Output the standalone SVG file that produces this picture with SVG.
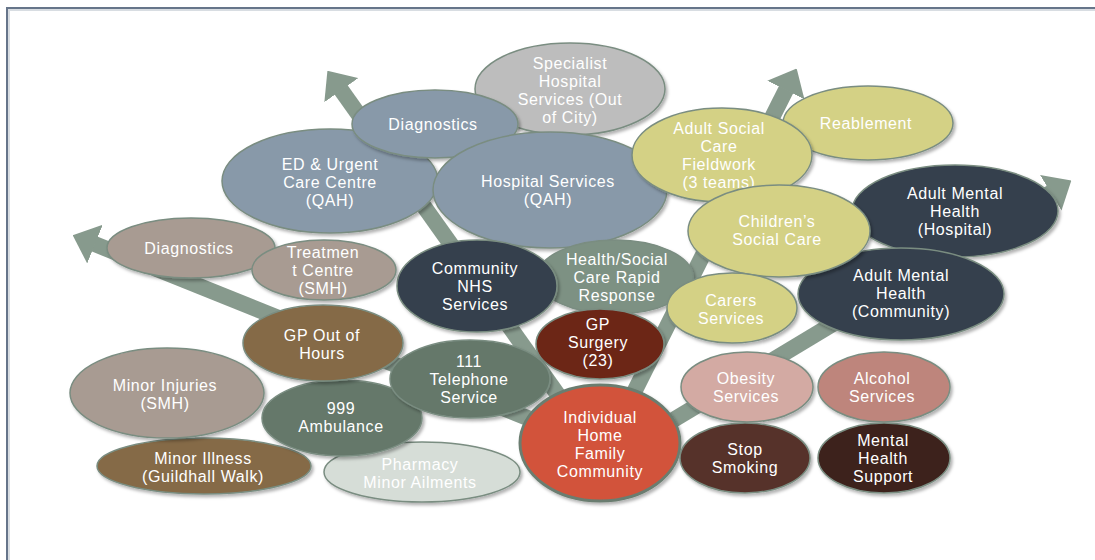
<svg xmlns="http://www.w3.org/2000/svg" width="1095" height="560" viewBox="0 0 1095 560">
<defs>
<marker id="ah" markerUnits="strokeWidth" viewBox="0 0 10 10" markerWidth="1.5" markerHeight="2.6" refX="0.3" refY="5" orient="auto" preserveAspectRatio="none">
<path d="M0,0 L10,5 L0,10 Z" fill="#879a8d"/>
</marker>
<filter id="sh" x="-10%" y="-10%" width="125%" height="130%">
<feDropShadow dx="2" dy="2.5" stdDeviation="1.5" flood-color="#000" flood-opacity="0.3"/>
</filter>
</defs>
<style>
text{font-family:"Liberation Sans",Arial,sans-serif;font-size:16px;fill:#ffffff;text-anchor:middle;letter-spacing:0.6px}
.n ellipse{stroke:#7a8d81;stroke-width:1.5;filter:url(#sh)}
.arrow{stroke:#879a8d;stroke-width:16;fill:none;marker-end:url(#ah)}
.bg{fill:#8899a9}.sp{fill:#bdbdbd}.ye{fill:#d4d185}.dk{fill:#36404d}.gg{fill:#7d9183}.gm{fill:#65786b}
.tp{fill:#a89b92}.br{fill:#856a46}.ph{fill:#d6ddd7}.rd{fill:#d2533a}.gp{fill:#6c2518}
.ob{fill:#d3aaa3}.al{fill:#be857b}.ss{fill:#57332c}.mh{fill:#3e211d}
</style>
<rect width="1095" height="560" fill="#ffffff"/>
<path d="M7,562 V8 H1097" fill="none" stroke="#66758a" stroke-width="2"/>
<path d="M9,562 V10 H1097" fill="none" stroke="#d8dde2" stroke-width="2"/>
<g id="connectors">
<line class="arrow" x1="590" y1="440" x2="340.9" y2="89.6"/>
<line class="arrow" x1="570" y1="435" x2="94.3" y2="243.9"/>
<line class="arrow" x1="610" y1="440" x2="786.2" y2="89.4"/>
<line class="arrow" x1="640" y1="440" x2="1051.4" y2="192.4"/>
</g>
<g id="specialist" class="n"><ellipse class="sp" cx="570" cy="89" rx="95" ry="46"/><text x="570" y="68.5">Specialist</text><text x="570" y="86.5">Hospital</text><text x="570" y="104.5">Services (Out</text><text x="570" y="122.5">of City)</text></g>
<g id="ed" class="n"><ellipse class="bg" cx="330" cy="181" rx="108" ry="52"/><text x="330" y="169.5">ED &amp; Urgent</text><text x="330" y="187.5">Care Centre</text><text x="330" y="205.5">(QAH)</text></g>
<g id="diagnostics-top" class="n"><ellipse class="bg" cx="435" cy="124" rx="83" ry="34"/><text x="433" y="129.5">Diagnostics</text></g>
<g id="hospital" class="n"><ellipse class="bg" cx="550" cy="190" rx="117" ry="58"/><text x="548" y="186.5">Hospital Services</text><text x="548" y="204.5">(QAH)</text></g>
<g id="reablement" class="n"><ellipse class="ye" cx="868" cy="123" rx="85" ry="37"/><text x="866" y="128.5">Reablement</text></g>
<g id="adult-social" class="n"><ellipse class="ye" cx="722" cy="155" rx="90" ry="47"/><text x="719" y="133.5">Adult Social</text><text x="719" y="151.5">Care</text><text x="719" y="169.5">Fieldwork</text><text x="719" y="187.5">(3 teams)</text></g>
<g id="amh-hospital" class="n"><ellipse class="dk" cx="955" cy="211" rx="103" ry="46"/><text x="955" y="198.5">Adult Mental</text><text x="955" y="216.5">Health</text><text x="955" y="234.5">(Hospital)</text></g>
<g id="amh-community" class="n"><ellipse class="dk" cx="901" cy="294" rx="103" ry="46"/><text x="901" y="280.5">Adult Mental</text><text x="901" y="298.5">Health</text><text x="901" y="316.5">(Community)</text></g>
<g id="childrens" class="n"><ellipse class="ye" cx="779" cy="231" rx="91" ry="46"/><text x="777" y="226.5">Children’s</text><text x="777" y="244.5">Social Care</text></g>
<g id="rapid-response" class="n"><ellipse class="gg" cx="615" cy="277" rx="78" ry="37"/><text x="617" y="264.5">Health/Social</text><text x="617" y="282.5">Care Rapid</text><text x="617" y="300.5">Response</text></g>
<g id="community-nhs" class="n"><ellipse class="dk" cx="477" cy="286" rx="80" ry="46"/><text x="475" y="273.5">Community</text><text x="475" y="291.5">NHS</text><text x="475" y="309.5">Services</text></g>
<g id="gp-surgery" class="n"><ellipse class="gp" cx="600" cy="344" rx="64" ry="35"/><text x="598" y="329.5">GP</text><text x="598" y="347.5">Surgery</text><text x="598" y="365.5">(23)</text></g>
<g id="carers" class="n"><ellipse class="ye" cx="732" cy="308" rx="65" ry="35"/><text x="731" y="305.5">Carers</text><text x="731" y="323.5">Services</text></g>
<g id="diagnostics-left" class="n"><ellipse class="tp" cx="191" cy="248" rx="84" ry="30"/><text x="189" y="253.5">Diagnostics</text></g>
<g id="treatment" class="n"><ellipse class="tp" cx="324" cy="270" rx="72" ry="30"/><text x="323" y="257.5">Treatmen</text><text x="323" y="275.5">t Centre</text><text x="323" y="293.5">(SMH)</text></g>
<g id="pharmacy" class="n"><ellipse class="ph" cx="422" cy="472" rx="98" ry="30"/><text x="420" y="469.5">Pharmacy</text><text x="420" y="487.5">Minor Ailments</text></g>
<g id="minor-illness" class="n"><ellipse class="br" cx="204" cy="466" rx="107" ry="28"/><text x="203" y="463.5">Minor Illness</text><text x="203" y="481.5">(Guildhall Walk)</text></g>
<g id="minor-injuries" class="n"><ellipse class="tp" cx="167" cy="393" rx="97" ry="45"/><text x="165" y="390.5">Minor Injuries</text><text x="165" y="408.5">(SMH)</text></g>
<g id="ambulance" class="n"><ellipse class="gm" cx="342" cy="418" rx="80" ry="38"/><text x="341" y="413.5">999</text><text x="341" y="431.5">Ambulance</text></g>
<g id="gp-ooh" class="n"><ellipse class="br" cx="323" cy="343" rx="80" ry="38"/><text x="322" y="340.5">GP Out of</text><text x="322" y="358.5">Hours</text></g>
<g id="telephone" class="n"><ellipse class="gm" cx="470" cy="379" rx="80" ry="39"/><text x="469" y="366.5">111</text><text x="469" y="384.5">Telephone</text><text x="469" y="402.5">Service</text></g>
<g id="individual" class="n"><ellipse class="rd" cx="600" cy="443" rx="80" ry="58" style="stroke:#6b7d70;stroke-width:3"/><text x="600" y="422.5">Individual</text><text x="600" y="440.5">Home</text><text x="600" y="458.5">Family</text><text x="600" y="476.5">Community</text></g>
<g id="obesity" class="n"><ellipse class="ob" cx="747" cy="387" rx="66" ry="35"/><text x="746" y="383.5">Obesity</text><text x="746" y="401.5">Services</text></g>
<g id="alcohol" class="n"><ellipse class="al" cx="884" cy="387" rx="66" ry="35"/><text x="882" y="383.5">Alcohol</text><text x="882" y="401.5">Services</text></g>
<g id="stop-smoking" class="n"><ellipse class="ss" cx="745" cy="458" rx="65" ry="35"/><text x="745" y="454.5">Stop</text><text x="745" y="472.5">Smoking</text></g>
<g id="mh-support" class="n"><ellipse class="mh" cx="884" cy="458" rx="66" ry="35"/><text x="883" y="445.5">Mental</text><text x="883" y="463.5">Health</text><text x="883" y="481.5">Support</text></g>
</svg>
